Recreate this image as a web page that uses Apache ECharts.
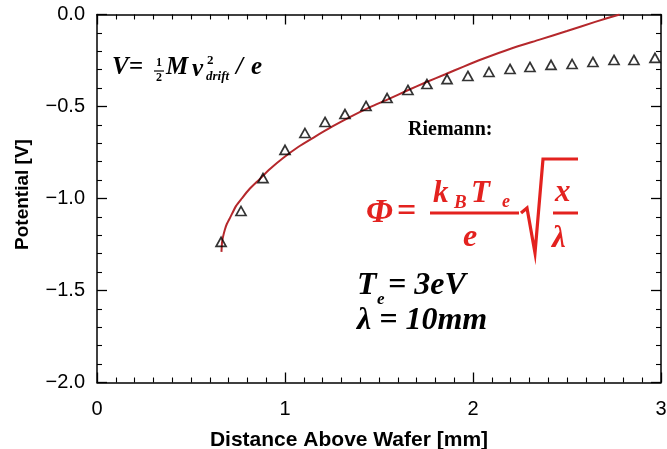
<!DOCTYPE html>
<html>
<head>
<meta charset="utf-8">
<script src="https://cdn.jsdelivr.net/npm/echarts@6/dist/echarts.min.js"></script>
<style>
  html, body { margin: 0; padding: 0; background: #fff; }
  #chart { width: 667px; height: 449px; }
</style>
</head>
<body>
<div id="chart"></div>
<script>
// Measured potential: V = 1/2 M v_drift^2 / e
var measuredX = [0.66, 0.766, 0.883, 1.0, 1.106, 1.213, 1.319, 1.431, 1.543, 1.654, 1.755,
                 1.862, 1.973, 2.085, 2.197, 2.303, 2.415, 2.527, 2.638, 2.75, 2.856, 2.968];
var measuredY = [-1.236, -1.068, -0.889, -0.736, -0.644, -0.584, -0.541, -0.497, -0.454, -0.41, -0.378,
                 -0.351, -0.334, -0.3125, -0.296, -0.285, -0.274, -0.269, -0.258, -0.247, -0.247, -0.236];

// Riemann sheath potential curve (Te = 3 eV, lambda = 10 mm)
var riemannX = [0.662, 0.665, 0.67, 0.68, 0.69, 0.71, 0.74, 0.77, 0.81, 0.86, 0.92, 0.99, 1.07, 1.15,
                1.25, 1.35, 1.45, 1.55, 1.65, 1.75, 1.85, 1.95, 2.05, 2.2, 2.35, 2.5, 2.65, 2.78];
var riemannY = [-1.29, -1.24, -1.21, -1.17, -1.14, -1.10, -1.04, -1.00, -0.95, -0.90, -0.84, -0.78, -0.72, -0.67,
                -0.61, -0.555, -0.505, -0.46, -0.413, -0.368, -0.326, -0.283, -0.242, -0.186, -0.138, -0.09, -0.04, 0.0];

var xTicks = [0, 1, 2, 3];
var yTicks = [-2.0, -1.5, -1.0, -0.5, 0.0];

function zip(xs, ys) {
  return xs.map(function (x, i) { return [x, ys[i]]; });
}

var AXIS_COLOR = '#000';
var SANS = '"Liberation Sans", Arial, sans-serif';
var SERIF = '"Liberation Serif", "Times New Roman", serif';
var RED = '#e3221f';

function baseX(pos, showLabels) {
  return {
    type: 'value', position: pos, gridIndex: 0,
    min: xTicks[0], max: xTicks[xTicks.length - 1], interval: 1,
    axisLine: { show: true, onZero: false, lineStyle: { color: AXIS_COLOR, width: 1.5 } },
    axisTick: { show: true, inside: true, length: 10, lineStyle: { color: AXIS_COLOR, width: 1.3 } },
    minorTick: { show: true, splitNumber: 10, length: 5, lineStyle: { color: AXIS_COLOR, width: 1.1 } },
    splitLine: { show: false },
    minorSplitLine: { show: false },
    axisLabel: {
      show: showLabels, color: '#000', fontFamily: SANS, fontSize: 20, margin: 17,
      formatter: function (v) { return String(v); }
    }
  };
}

function baseY(pos, showLabels) {
  return {
    type: 'value', position: pos, gridIndex: 0,
    min: yTicks[0], max: yTicks[yTicks.length - 1], interval: 0.5,
    axisLine: { show: true, onZero: false, lineStyle: { color: AXIS_COLOR, width: 1.5 } },
    axisTick: { show: true, inside: true, length: 10, lineStyle: { color: AXIS_COLOR, width: 1.3 } },
    minorTick: { show: true, splitNumber: 5, length: 5, lineStyle: { color: AXIS_COLOR, width: 1.1 } },
    splitLine: { show: false },
    minorSplitLine: { show: false },
    axisLabel: {
      show: showLabels, color: '#000', fontFamily: SANS, fontSize: 20, margin: 12,
      formatter: function (v) { return v.toFixed(1).replace('-', '\u2212'); }
    }
  };
}

var xBottom = baseX('bottom', true);
xBottom.name = 'Distance Above Wafer [mm]';
xBottom.nameLocation = 'middle';
xBottom.nameGap = 47;
xBottom.nameTextStyle = { color: '#000', fontFamily: SANS, fontSize: 21, fontWeight: 'bold', padding: [0, 60, 0, 0] };

var yLeft = baseY('left', true);
yLeft.name = 'Potential [V]';
yLeft.nameLocation = 'middle';
yLeft.nameGap = 65;
yLeft.nameTextStyle = { color: '#000', fontFamily: SANS, fontSize: 19, fontWeight: 'bold', padding: [0, 0, 0, 8] };

function txt(x, y, text, size, opts) {
  opts = opts || {};
  return {
    type: 'text', x: x, y: y, z: 100,
    style: {
      text: text,
      fill: opts.fill || '#000',
      font: (opts.style || 'italic') + ' ' + (opts.weight || 'normal') + ' ' + size + 'px ' + (opts.family || SERIF),
      textAlign: opts.align || 'left',
      textVerticalAlign: 'middle',
      align: opts.align || 'left',
      verticalAlign: 'middle'
    }
  };
}

function seg(points, width, color) {
  return {
    type: 'polyline', z: 100,
    shape: { points: points },
    style: { stroke: color, lineWidth: width, fill: null }
  };
}

var graphics = [
  // V = 1/2 M v_drift^2 / e
  txt(112, 68, 'V', 25, { weight: 'bold' }),
  txt(129, 68, '=', 25, { style: 'normal', weight: 'bold' }),
  txt(159, 63, '1', 12, { style: 'normal', weight: 'bold', align: 'center' }),
  seg([[154, 71], [164, 71]], 1.2, '#000'),
  txt(159, 78, '2', 12, { style: 'normal', weight: 'bold', align: 'center' }),
  txt(166, 68, 'M', 25, { weight: 'bold' }),
  txt(192, 70, 'v', 25, { weight: 'bold' }),
  txt(207, 61, '2', 13, { style: 'normal', weight: 'bold' }),
  txt(206, 77, 'drift', 13, { weight: 'bold' }),
  txt(236, 68, '/', 25, { weight: 'bold' }),
  txt(251, 68, 'e', 25, { weight: 'bold' }),

  // Riemann sheath expression
  txt(408, 130, 'Riemann:', 20, { style: 'normal', weight: 'bold' }),
  txt(366, 213, '\u03A6', 34, { fill: RED, weight: 'bold' }),
  txt(397, 212, '=', 34, { fill: RED, weight: 'bold', style: 'normal' }),
  txt(433, 194, 'k', 31, { fill: RED, weight: 'bold' }),
  txt(454, 203, 'B', 19, { fill: RED, weight: 'bold' }),
  txt(471, 194, 'T', 31, { fill: RED, weight: 'bold' }),
  txt(502, 202, 'e', 18, { fill: RED, weight: 'bold' }),
  seg([[430, 213], [519, 213]], 3, RED),
  txt(463, 238, 'e', 32, { fill: RED, weight: 'bold' }),
  seg([[521, 213], [527, 208], [535, 253], [543, 159], [578, 159]], 3.2, RED),
  txt(555, 193, 'x', 31, { fill: RED, weight: 'bold' }),
  seg([[553, 213], [578, 213]], 3, RED),
  txt(552, 239, '\u03BB', 31, { fill: RED, weight: 'bold' }),

  // Parameters
  txt(357, 286, 'T', 32, { weight: 'bold' }),
  txt(377, 300, 'e', 17, { weight: 'bold' }),
  txt(388, 286, '= 3eV', 32, { weight: 'bold' }),
  txt(357, 321, '\u03BB = 10mm', 32, { weight: 'bold' })
];

var chart = echarts.init(document.getElementById('chart'), null, { renderer: 'canvas' });
chart.setOption({
  animation: false,
  backgroundColor: '#fff',
  grid: { left: 97, right: 6, top: 14.5, bottom: 66.5, containLabel: false, outerBoundsMode: 'none' },
  xAxis: [xBottom, baseX('top', false)],
  yAxis: [yLeft, baseY('right', false)],
  series: [
    {
      name: 'Riemann', type: 'line', xAxisIndex: 0, yAxisIndex: 0,
      data: zip(riemannX, riemannY),
      showSymbol: false, smooth: 0.2, clip: true,
      lineStyle: { color: '#b5282c', width: 2 },
      z: 2
    },
    {
      name: 'Measured', type: 'scatter', xAxisIndex: 0, yAxisIndex: 0,
      data: zip(measuredX, measuredY),
      symbol: 'triangle', symbolSize: [10, 9],
      itemStyle: { color: 'rgba(0,0,0,0)', borderColor: '#000', borderWidth: 1.7 },
      z: 3
    }
  ],
  graphic: graphics
});
</script>
</body>
</html>
